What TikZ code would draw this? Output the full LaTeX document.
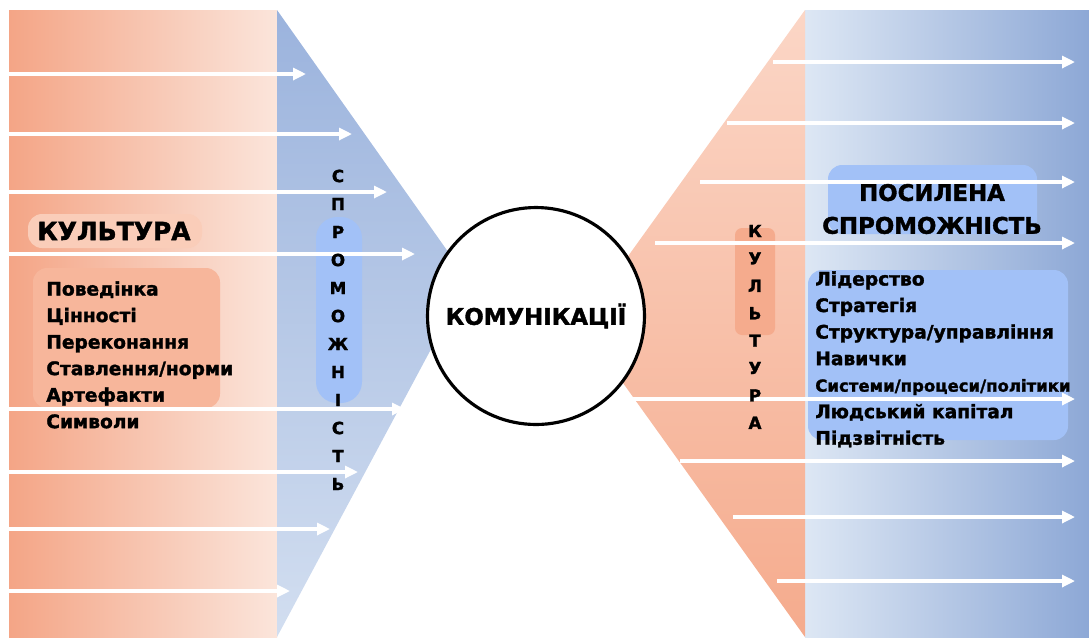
\documentclass[tikz,border=0pt]{standalone}
\usepackage{fontspec}
\setmainfont{DejaVu Sans}[BoldFeatures={FakeBold=1.6}]
\usepackage{tikz}
\usetikzlibrary{arrows.meta, positioning, shapes.geometric}
\definecolor{salmonA}{HTML}{F4A586}
\definecolor{salmonB}{HTML}{FBE5DB}
\definecolor{salmonC}{HTML}{FBD6C6}
\definecolor{salmonD}{HTML}{F5AB8D}
\definecolor{salmonHi}{HTML}{F7B69B}
\definecolor{blueA}{HTML}{DDE7F4}
\definecolor{blueB}{HTML}{8DA8D6}
\definecolor{blueC}{HTML}{9BB3DD}
\definecolor{blueD}{HTML}{D2DEF0}
\definecolor{blueHi}{HTML}{A2C1F7}
\tikzstyle{flow} = [white, line width=1.8pt, -{Triangle[length=2.6mm,width=2.4mm]}]
\tikzstyle{title} = [font=\bfseries\fontsize{13}{18.7}\selectfont, inner sep=0pt]
\tikzstyle{items} = [font=\bfseries\fontsize{10.6}{15.1}\selectfont, align=left, anchor=north west, inner sep=0pt]
\tikzstyle{vletter} = [font=\bfseries\fontsize{9.5}{11}\selectfont, inner sep=0pt]
\tikzstyle{hilite} = [rounded corners=8pt]

\begin{document}
\begin{tikzpicture}[x=0.02cm, y=-0.02cm]
\useasboundingbox (0,0) rectangle (1089,637);

% left panel
\shade[left color=salmonA, right color=salmonB] (9,10) rectangle (277,637);
\shade[top color=blueC, bottom color=blueD] (277,10) -- (468,280) -- (277,637) -- cycle;

% right panel
\shade[left color=blueA, right color=blueB] (805,10) rectangle (1089,637);
\shade[top color=salmonC, bottom color=salmonD] (805,10) -- (580,323) -- (805,637) -- cycle;

% highlights
\fill[salmonC!70!salmonHi, hilite] (28,214) rectangle (202,248);
\fill[salmonHi, hilite] (33,268) rectangle (220,408);
\fill[blueHi, rounded corners=12pt] (316,217) rectangle (362,403);
\fill[blueHi, hilite] (828,165) rectangle (1037,234);
\fill[blueHi, hilite] (808,270) rectangle (1068,440);
\fill[salmonD, rounded corners=4pt] (735,228) rectangle (775,335);

% arrows left
\foreach \y/\e [count=\i] in {74/306, 134/352, 192/387, 254/415, 409/405, 472/358, 529/330, 591/290} {
  \coordinate (ls\i) at (9,\y);
  \coordinate (le\i) at (\e,\y);
  \draw[flow] (ls\i) -- (le\i);
}

% arrows right
\foreach \y/\s [count=\i] in {62/773, 123/727, 182/700, 243/655, 399/633, 461/680, 517/733, 581/777} {
  \coordinate (rs\i) at (\s,\y);
  \coordinate (re\i) at (1075,\y);
  \draw[flow] (rs\i) -- (re\i);
}

% texts
\node[title, anchor=west, font=\bfseries\fontsize{14.2}{17}\selectfont] (kult) at (37,231) {КУЛЬТУРА};
\node[items] (kultlist) at (46,281) {Поведінка\\Цінності\\Переконання\\Ставлення/норми\\Артефакти\\Символи};

\foreach \l [count=\i] in {С,П,Р,О,М,О,Ж,Н,І,С,Т,Ь}
  \node[vletter] (sp\i) at (338,{176+28*(\i-1)}) {\l};

\node[title, align=center] (posyl) at (932,209) {ПОСИЛЕНА\\СПРОМОЖНІСТЬ};
\node[items] (spromlist) at (815,271) {Лідерство\\Стратегія\\Структура/управління\\Навички\\{\fontsize{9.4}{15.1}\selectfont Системи/процеси/політики}\\Людський капітал\\Підзвітність};

\foreach \l [count=\i] in {К,У,Л,Ь,Т,У,Р,А}
  \node[vletter] (ku\i) at (755,{231+27.4*(\i-1)}) {\l};

% centre
\node[circle, draw=black, fill=white, line width=1.8pt, minimum size=4.34cm, title] (komun) at (536,316) {КОМУНІКАЦІЇ};

\end{tikzpicture}
\end{document}
